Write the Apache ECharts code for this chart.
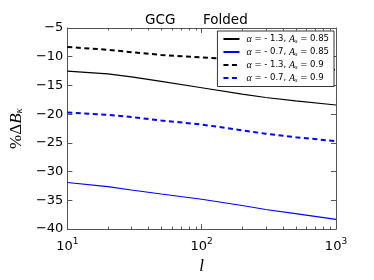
<!DOCTYPE html>
<html><head><meta charset="utf-8">
<script src="https://cdn.jsdelivr.net/npm/echarts@6/dist/echarts.min.js"></script>
<style>html,body{margin:0;padding:0;background:#fff}#c{width:374px;height:280px}</style>
</head><body><div id="c"></div>
<script>
const ells = [10, 20, 30, 50, 100, 200, 300, 500, 1000];
const blackSolid = [-12.5, -13.0, -13.5, -14.3, -15.4, -16.5, -17.1, -17.7, -18.4];
const blueSolid = [-31.9, -32.6, -33.2, -33.9, -34.8, -35.9, -36.6, -37.3, -38.3];
const blackDashed = [-8.3, -8.8, -9.2, -9.7, -10.1, -10.6, -11.0, -11.6, -12.3];
const blueDashed = [-19.7, -20.1, -20.5, -21.1, -21.8, -22.8, -23.4, -24.0, -24.7];
const alphas = ['- 1.3', '- 0.7', '- 1.3', '- 0.7'];
const asVals = ['0.85', '0.85', '0.9', '0.9'];
const yTicks = [-40, -35, -30, -25, -20, -15, -10, -5];
const minorX = [20,30,40,50,60,70,80,90,200,300,400,500,600,700,800,900];

const names = alphas.map((a, i) => 'α = ' + a + ', As = ' + asVals[i]);
const seriesVals = [blackSolid, blueSolid, blackDashed, blueDashed];
const colors = ['#000000', '#0000ff', '#000000', '#0000ff'];
const dashed = [false, false, true, true];
const widths = [1.2, 1.1, 2, 2];
const Y_MIN = -40, Y_MAX = -5;

const chart = echarts.init(document.getElementById('c'), null, {renderer: 'canvas'});
const axisCol = '#555';
function xAx(pos, len) {
  return {
    type: 'log', logBase: 10, min: 10, max: 1000, position: pos,
    axisLine: {show: true, onZero: false, lineStyle: {color: axisCol, width: 1}},
    axisTick: {show: true, inside: true, length: len, lineStyle: {color: axisCol}},
    axisLabel: {show: false},
    splitLine: {show: false}
  };
}
const xAxes = [xAx('bottom', 5), xAx('top', 5)];
xAxes[0].axisLabel = {
  show: true, margin: 8, color: '#000',
  fontFamily: 'DejaVu Sans', fontSize: 13,
  formatter: v => '{b|10}{s|' + Math.round(Math.log10(v)) + '}',
  rich: {
    b: {fontSize: 13, fontFamily: 'DejaVu Sans', color: '#000', verticalAlign: 'bottom', lineHeight: 16},
    s: {fontSize: 9, fontFamily: 'DejaVu Sans', color: '#000', verticalAlign: 'top', lineHeight: 16, padding: [0,0,6,0]}
  }
};
xAxes[0].name = '{i|l}';
xAxes[0].nameLocation = 'middle';
xAxes[0].nameGap = 25;
xAxes[0].nameTextStyle = {rich: {i: {fontFamily: 'Liberation Serif', fontStyle: 'italic', fontSize: 17, color: '#000'}}};

const yAxes = [
  {
    type: 'value', min: Y_MIN, max: Y_MAX, interval: 5, position: 'left',
    axisLine: {show: true, onZero: false, lineStyle: {color: axisCol}},
    axisTick: {show: true, inside: true, length: 5, lineStyle: {color: axisCol}},
    axisLabel: {color: '#000', fontFamily: 'DejaVu Sans', fontSize: 13, margin: 4,
      formatter: v => String(v).replace('-', '\u2212')},
    splitLine: {show: false},
    name: '%Δ{b|B}{s|κ}', nameLocation: 'middle', nameRotate: 90, nameGap: 36,
    nameTextStyle: {rich: {
      b: {fontFamily: 'Liberation Serif', fontStyle: 'italic', fontSize: 17, color: '#000'},
      s: {fontFamily: 'Liberation Serif', fontStyle: 'italic', fontSize: 11, color: '#000', verticalAlign: 'bottom', padding: [6,0,0,0]}
    }, fontFamily: 'Liberation Serif', fontSize: 17, color: '#000'}
  },
  {
    type: 'value', min: Y_MIN, max: Y_MAX, interval: 5, position: 'right',
    axisLine: {show: true, onZero: false, lineStyle: {color: axisCol}},
    axisTick: {show: true, inside: true, length: 5, lineStyle: {color: axisCol}},
    axisLabel: {show: false}, splitLine: {show: false}
  }
];

const series = seriesVals.map((vals, i) => ({
  name: names[i], type: 'line', xAxisIndex: 0, yAxisIndex: 0,
  data: ells.map((l, j) => [l, vals[j]]),
  symbol: 'none', showSymbol: false, smooth: false,
  lineStyle: {color: colors[i], width: widths[i], type: dashed[i] ? [5, 3.5] : 'solid'},
  itemStyle: {color: colors[i]},
  z: 2
}));

// minor log ticks (bottom & top), positioned through the axis scale
series.push({
  name: 'minorTicks', type: 'custom', xAxisIndex: 0, yAxisIndex: 0, silent: true, z: 3,
  data: minorX.map(v => [v]),
  renderItem: (params, api) => {
    const b = api.coord([api.value(0), Y_MIN]);
    const t = api.coord([api.value(0), Y_MAX]);
    const st = {stroke: axisCol, lineWidth: 1};
    return {type: 'group', children: [
      {type: 'line', shape: {x1: Math.round(b[0]) + 0.5, y1: b[1], x2: Math.round(b[0]) + 0.5, y2: b[1] - 2.5}, style: st},
      {type: 'line', shape: {x1: Math.round(t[0]) + 0.5, y1: t[1], x2: Math.round(t[0]) + 0.5, y2: t[1] + 2.5}, style: st}
    ]};
  }
});

chart.setOption({
  animation: false,
  backgroundColor: '#fff',
  grid: {left: 56, right: 38, top: 28, bottom: 42, containLabel: false},
  title: [
    {text: 'GCG', left: 145, top: 13, textStyle: {fontFamily: 'DejaVu Sans', fontSize: 13.5, fontWeight: 'normal', color: '#000'}, padding: 0},
    {text: 'Folded', left: 203, top: 13, textStyle: {fontFamily: 'DejaVu Sans', fontSize: 13.5, fontWeight: 'normal', color: '#000'}, padding: 0}
  ],
  legend: {
    orient: 'vertical', right: 40, top: 31,
    backgroundColor: '#fff', borderColor: '#000', borderWidth: 0.8, borderRadius: 0,
    padding: [3, 5, 3, 5], itemGap: 2.5, itemWidth: 16, itemHeight: 10,
    itemStyle: {opacity: 0},
    data: names,
    formatter: n => {
      const i = names.indexOf(n);
      return '{i|α} = ' + alphas[i] + ', {i|A}{s|s} = ' + asVals[i];
    },
    textStyle: {fontFamily: 'DejaVu Sans', fontSize: 8.5, color: '#000', padding: [0,0,0,2],
      rich: {
        i: {fontFamily: 'Liberation Serif', fontStyle: 'italic', fontSize: 10, color: '#000'},
        s: {fontFamily: 'Liberation Serif', fontStyle: 'italic', fontSize: 6.5, color: '#000', verticalAlign: 'bottom', padding: [4,0,0,0]}
      }}
  },
  xAxis: xAxes,
  yAxis: yAxes,
  series: series
});
</script></body></html>
